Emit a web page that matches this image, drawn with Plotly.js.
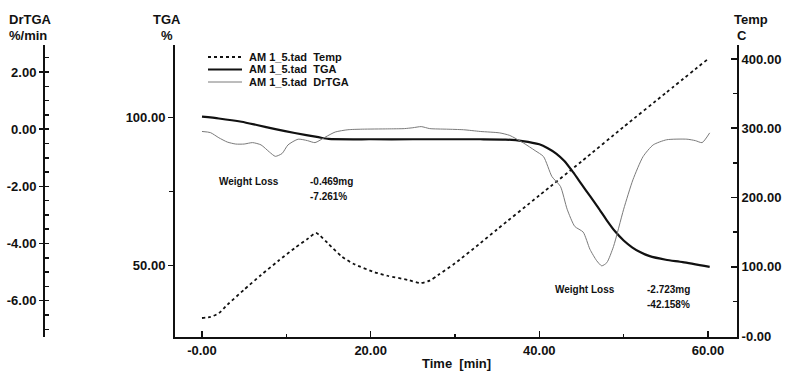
<!DOCTYPE html>
<html>
<head>
<meta charset="utf-8">
<script src="https://cdn.plot.ly/plotly-3.0.1.min.js"></script>
<style>
  html, body { margin: 0; padding: 0; background: #ffffff; }
  #chart { width: 793px; height: 371px; }
</style>
</head>
<body>
<div id="chart"></div>
<script>
// Thermogravimetric run AM 1_5.tad: temperature program, mass (TGA) and derivative (DrTGA)

// Temperature programme, °C vs time [min]
const tempTime = [0, 1, 2, 3, 5, 7, 9, 11, 12.6, 13.5, 14, 15, 16.6, 18, 20.5, 22, 24.4, 25.9,
                  27, 28, 30, 33, 35, 40, 45, 50, 55, 60];
const tempC    = [26, 27.5, 33, 45, 67, 88, 108, 127, 141, 149, 145, 133, 114.5, 104, 92, 87, 81, 76.5,
                  80, 88, 105, 134, 154, 203, 252, 302, 351, 400];

// Residual mass, % vs time [min]
const tgaTime = [0, 2, 4.7, 6.5, 8.7, 11, 13.8, 15, 20, 25, 30, 33, 36, 38, 40, 41, 42, 43, 44, 45,
                 46, 47, 48, 49, 50, 51, 52, 53, 55, 57, 60.2];
const tgaPct  = [100.2, 99.6, 98.5, 97.4, 96.0, 94.7, 93.3, 92.7, 92.6, 92.6, 92.6, 92.6, 92.5, 92.0,
                 90.9, 89.6, 87.8, 85.2, 81.5, 77.5, 73.5, 69.5, 65.3, 61.5, 58.5, 56.2, 54.5, 53.3,
                 52.0, 51.2, 49.6];

// Mass-loss rate, %/min vs time [min]
const drTime = [0, 1, 2, 3, 4, 5, 6, 7, 8, 8.7, 9.5, 10.2, 11.4, 12.5, 13.4, 14.6, 15.8, 17.3, 19, 22,
                24, 25, 26, 27, 29, 31, 33, 35.3, 36.5, 38.1, 39.5, 40.5, 41.5, 42.5, 43.3, 44.2, 45.2,
                46, 46.8, 47.4, 48, 48.8, 50, 51.1, 52.3, 53.5, 55.1, 57.5, 58.5, 59.3, 60.2];
const drTga  = [-0.08, -0.12, -0.30, -0.45, -0.52, -0.52, -0.47, -0.55, -0.80, -0.95, -0.85, -0.55,
                -0.35, -0.40, -0.47, -0.28, -0.10, -0.02, 0.00, 0.01, 0.02, 0.05, 0.09, 0.02, 0.00,
                -0.02, -0.08, -0.13, -0.22, -0.48, -0.75, -0.96, -1.66, -2.0, -2.8, -3.4, -3.6, -4.2,
                -4.6, -4.78, -4.67, -4.1, -2.8, -1.77, -0.96, -0.55, -0.37, -0.35, -0.40, -0.47, -0.13];

// Tick labels
const xTickVals = [0, 20, 40, 60];
const xTickText = ['-0.00', '20.00', '40.00', '60.00'];
const tgaTickVals = [50, 100];
const tgaTickText = ['50.00', '100.00'];
const tempTickVals = [0, 100, 200, 300, 400];
const tempTickText = ['-0.00', '100.00', '200.00', '300.00', '400.00'];
const drTickVals = [-6, -4, -2, 0, 2];
const drTickText = ['-6.00', '-4.00', '-2.00', '0.00', '2.00'];

// Legend entries and result notes
const seriesNames = ['AM 1_5.tad\u00a0\u00a0Temp', 'AM 1_5.tad\u00a0\u00a0TGA', 'AM 1_5.tad\u00a0\u00a0DrTGA'];
const lossNotes = [
  { label: 'Weight Loss', mg: '-0.469mg', pct: '-7.261%' },
  { label: 'Weight Loss', mg: '-2.723mg', pct: '-42.158%' }
];

const FONT = '"Liberation Sans", Arial, Helvetica, sans-serif';
const INK = '#111111';
const W = 793, H = 371;
const M = { l: 40, r: 56, t: 45, b: 34 };
const plotW = W - M.l - M.r, plotH = H - M.t - M.b;
// pixel -> paper helpers for free-floating labels
const px = x => (x - M.l) / plotW;
const py = y => (H - M.b - y) / plotH;

const styles = [
  { color: INK, width: 1.8, dash: '3px,3px' },
  { color: INK, width: 2.2, dash: 'solid' },
  { color: '#7a7a7a', width: 1, dash: 'solid' }
];

const traces = [
  { x: tempTime, y: tempC, yaxis: 'y2', name: seriesNames[0] },
  { x: tgaTime, y: tgaPct, yaxis: 'y', name: seriesNames[1] },
  { x: drTime, y: drTga, yaxis: 'y3', name: seriesNames[2] }
].map((t, i) => Object.assign(t, {
  type: 'scatter', mode: 'lines', line: Object.assign({ shape: 'spline', smoothing: 0.6 }, styles[i]),
  showlegend: false, hoverinfo: 'skip'
}));

const tickFont = { family: FONT, size: 13, color: INK, weight: 'bold' };
const axisBase = {
  showgrid: false, zeroline: false, showline: true, linecolor: INK, linewidth: 2,
  tickcolor: INK, tickwidth: 1.5, tickfont: tickFont, tickmode: 'array', fixedrange: true
};

const annotations = [];
const shapes = [];
function addText(text, x, y, size, anchor) {
  annotations.push({
    xref: 'paper', yref: 'paper', x: px(x), y: py(y), text: text, showarrow: false,
    xanchor: anchor || 'left', yanchor: 'middle',
    font: { family: FONT, size: size, color: INK, weight: 'bold' }
  });
}

// axis titles
addText('DrTGA', 7, 20, 13, 'left');
addText('%/min', 7, 35, 13, 'left');
addText('TGA', 167, 20, 13, 'center');
addText('%', 167, 35, 13, 'center');
addText('Temp', 751, 20, 13, 'center');
addText('C', 742, 35, 13, 'center');
addText('Time\u00a0\u00a0[min]', 456, 363, 13, 'center');

// legend block
seriesNames.forEach((name, i) => {
  const yy = 57 + i * 12.5;
  shapes.push({
    type: 'line', xref: 'paper', yref: 'paper', x0: px(208), x1: px(242), y0: py(yy), y1: py(yy),
    line: { color: styles[i].color, width: styles[i].width, dash: styles[i].dash }
  });
  addText(name, 247, yy, 11, 'left');
});

// weight-loss results
const notePos = [{ x: 217, xv: 308, y: 181 }, { x: 553, xv: 645, y: 289 }];
lossNotes.forEach((n, i) => {
  const p = notePos[i];
  addText(n.label, p.x, p.y, 10, 'left');
  addText(n.mg, p.xv, p.y, 10, 'left');
  addText(n.pct, p.xv, p.y + 15, 10, 'left');
});

const layout = {
  width: W, height: H,
  margin: M,
  paper_bgcolor: '#ffffff', plot_bgcolor: '#ffffff',
  showlegend: false,
  font: { family: FONT, color: INK },
  xaxis: Object.assign({}, axisBase, {
    domain: [px(175), 1], range: [-3.2, 63.44],
    tickvals: xTickVals, ticktext: xTickText, ticks: 'inside', ticklen: 6,
    minor: { tickmode: 'array', tickvals: [10, 30, 50], ticks: 'inside', ticklen: 3, tickcolor: INK, tickwidth: 1.5 }
  }),
  yaxis: Object.assign({}, axisBase, {
    range: [25.98, 124.36], anchor: 'x',
    tickvals: tgaTickVals, ticktext: tgaTickText, ticks: 'outside', ticklen: 5,
    minor: { tickmode: 'array', tickvals: [75], ticks: 'outside', ticklen: 4, tickcolor: INK, tickwidth: 1.5 }
  }),
  yaxis2: Object.assign({}, axisBase, {
    range: [-1.44, 420.2], overlaying: 'y', side: 'right', anchor: 'x',
    tickvals: tempTickVals, ticktext: tempTickText, ticks: 'inside', ticklen: 6,
    minor: { tickmode: 'array', tickvals: [50, 150, 250, 350], ticks: 'inside', ticklen: 4, tickcolor: INK, tickwidth: 1.5 }
  }),
  yaxis3: Object.assign({}, axisBase, {
    range: [-7.269, 2.944], overlaying: 'y', side: 'left', anchor: 'free', position: px(44),
    tickvals: drTickVals, ticktext: drTickText, ticks: 'outside', ticklen: 4,
    minor: { tickmode: 'linear', tick0: 0, dtick: 0.5, ticks: 'inside', ticklen: 4, tickcolor: INK, tickwidth: 1.5 }
  }),
  annotations: annotations,
  shapes: shapes
};

Plotly.newPlot('chart', traces, layout, { staticPlot: true, displayModeBar: false });
</script>
</body>
</html>
